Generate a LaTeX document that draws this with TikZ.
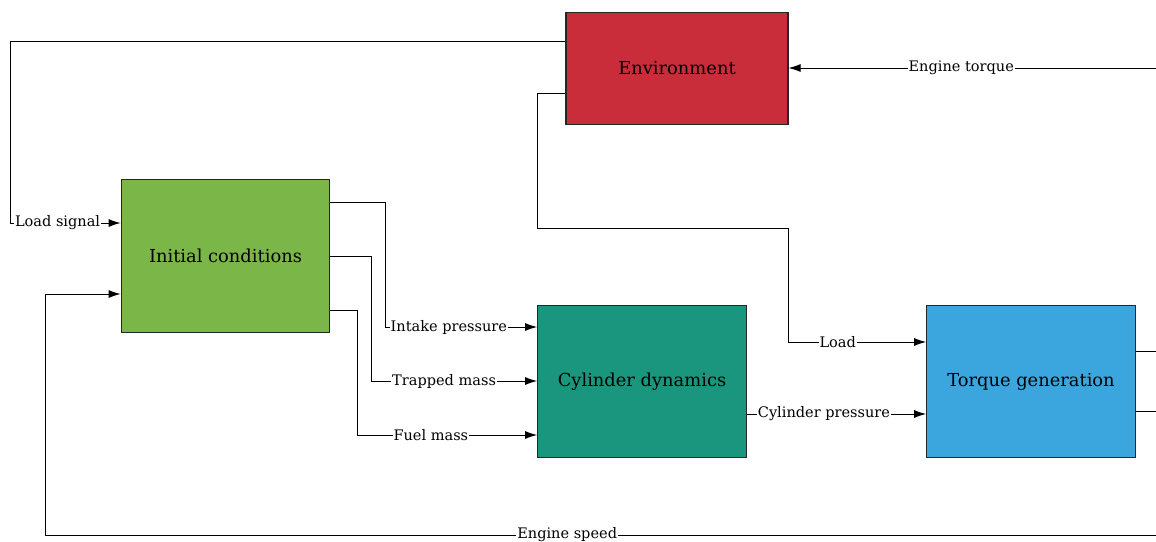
\documentclass[tikz,border=0pt]{standalone}
\usepackage{fontspec}
\setmainfont{DejaVu Serif}
\usetikzlibrary{arrows.meta}
\definecolor{envred}{HTML}{C92D39}
\definecolor{initgreen}{HTML}{7AB648}
\definecolor{cylteal}{HTML}{19967D}
\definecolor{tqblue}{HTML}{3AA6DD}
\begin{document}
\begin{tikzpicture}[
      x=0.75pt,
      y=-0.75pt,
      block/.style={draw=black!85, line width=0.8pt, minimum width=156.5pt,
        minimum height=114.5pt, font=\fontsize{13.4}{15}\selectfont},
      flow/.style={-{Latex[length=9pt,width=6pt]}, line width=0.7pt},
      wire/.style={line width=0.7pt},
      lbl/.style={fill=white, inner sep=0.6pt, font=\fontsize{10.9}{12}\selectfont}]
    \useasboundingbox (0,0) rectangle (1156,542);

    \node[block, fill=envred, minimum width=166.5pt, minimum height=83.3pt]
                                 (env)    at ( 677, 68.5) {Environment};
    \node[block, fill=initgreen] (init)   at ( 225.5, 256) {Initial conditions};
    \node[block, fill=cylteal]   (cyl)    at ( 642, 381.5) {Cylinder dynamics};
    \node[block, fill=tqblue]    (torque) at (1031, 381.5) {Torque generation};

    \coordinate (tqin)  at (1156, 68);
    \coordinate (out1)  at (1156, 351);
    \coordinate (out2)  at (1156, 411);
    \coordinate (spd)   at (1156, 535);

    \draw[flow] (env.west |- 0,41) -| (10,223)
      -- node[lbl, pos=.43] {Load signal} (init.west |- 0,223);
    \draw[flow] (env.west |- 0,93) -| (537,228) -| (788,342)
      -- node[lbl, pos=.36] {Load} (torque.west |- 0,342);
    \draw[flow] (tqin) -- node[lbl, pos=.53] {Engine torque} (env.east |- tqin);
    \draw[wire] (torque.east |- out1) -- (out1);
    \draw[wire] (torque.east |- out2) -- (out2);
    \draw[flow] (spd) -- node[lbl, pos=.53] {Engine speed} (45,535)
      |- (init.west |- 0,294);

    \draw[flow] (init.east |- 0,202) -| (385,327)
      -- node[lbl, pos=.42] {Intake pressure} (cyl.west |- 0,327);
    \draw[flow] (init.east |- 0,256) -| (371,381)
      -- node[lbl, pos=.44] {Trapped mass} (cyl.west |- 0,381);
    \draw[flow] (init.east |- 0,310) -| (357,435)
      -- node[lbl, pos=.41] {Fuel mass} (cyl.west |- 0,435);
    \draw[flow] (cyl.east |- 0,414)
      -- node[lbl, pos=.43] {Cylinder pressure} (torque.west |- 0,414);

  \end{tikzpicture}
\end{document}
